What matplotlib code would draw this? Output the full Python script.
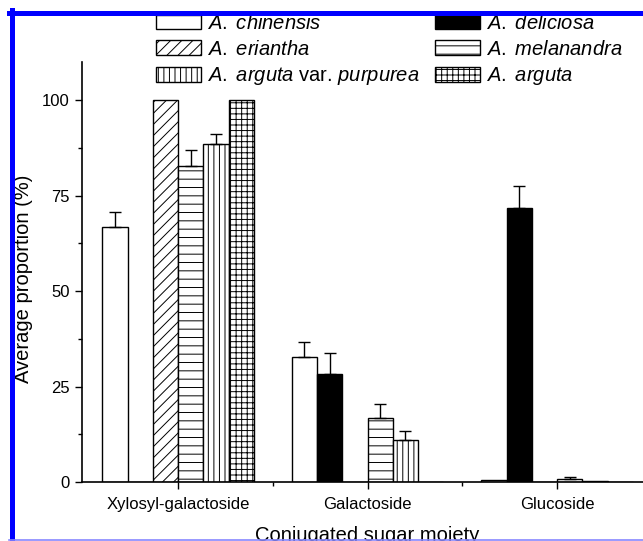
import numpy as np
import matplotlib
matplotlib.use("Agg")
import matplotlib.pyplot as plt
from matplotlib.lines import Line2D

# Daten
categories = ["Xylosyl-galactoside", "Galactoside", "Glucoside"]
species = [
    r"$\it{A.}$ $\it{chinensis}$",
    r"$\it{A.}$ $\it{deliciosa}$",
    r"$\it{A.}$ $\it{eriantha}$",
    r"$\it{A.}$ $\it{melanandra}$",
    r"$\it{A.}$ $\it{arguta}$ var. $\it{purpurea}$",
    r"$\it{A.}$ $\it{arguta}$",
]
chinensis = [66.8, 32.7, 0.5]
deliciosa = [0.0, 28.3, 71.7]
eriantha = [100.0, 0.0, 0.0]
melanandra = [82.7, 16.8, 0.9]
purpurea = [88.5, 11.0, 0.3]
arguta = [100.0, 0.0, 0.0]

chinensis_err = [3.9, 3.9, 0.0]
deliciosa_err = [0.0, 5.5, 5.8]
eriantha_err = [0.0, 0.0, 0.0]
melanandra_err = [4.3, 3.6, 0.5]
purpurea_err = [2.6, 2.4, 0.0]
arguta_err = [0.0, 0.0, 0.0]

values = [chinensis, deliciosa, eriantha, melanandra, purpurea, arguta]
errors = [chinensis_err, deliciosa_err, eriantha_err, melanandra_err, purpurea_err, arguta_err]
faces = ["white", "black", "white", "white", "white", "white"]
hatches = [None, None, "///", "--", "|||", "+++"]

plt.rcParams["font.family"] = ["Liberation Sans", "DejaVu Sans"]
plt.rcParams["mathtext.fontset"] = "custom"
plt.rcParams["mathtext.rm"] = "Liberation Sans"
plt.rcParams["mathtext.it"] = "Liberation Sans:italic"
plt.rcParams["hatch.linewidth"] = 0.7

fig = plt.figure(figsize=(6.43, 5.41), dpi=100)
ax = fig.add_axes([82 / 643, 59 / 541, 570 / 643, 420 / 541])

x = np.arange(len(categories))
w = 0.8 / 6
bars = []
for i in range(6):
    pos = x + (i - 2.5) * w
    b = ax.bar(pos, values[i], width=w, color=faces[i], edgecolor="black",
               linewidth=1.0, hatch=hatches[i], label=species[i], zorder=2)
    bars.append(b)
    err = np.array(errors[i])
    m = err > 0
    if m.any():
        ax.errorbar(pos[m], np.array(values[i])[m],
                    yerr=[np.zeros(m.sum()), err[m]], fmt="none",
                    ecolor="black", elinewidth=1.0, capsize=4, capthick=1.0, zorder=3)

ax.set_xlim(-0.507, 2.501)
ax.set_ylim(0, 110)
ax.set_yticks([0, 25, 50, 75, 100])
ax.set_yticks([12.5, 37.5, 62.5, 87.5], minor=True)
ax.set_xticks(x)
ax.set_xticks([0.5, 1.5], minor=True)
ax.set_xticklabels(categories, fontsize=12)
ax.tick_params(axis="y", labelsize=12)
ax.tick_params(which="major", direction="out", length=5, width=1.0, pad=4)
ax.tick_params(which="minor", direction="out", length=3, width=1.0)
ax.tick_params(axis="x", which="major", pad=6)

for s in ["top", "right"]:
    ax.spines[s].set_visible(False)
for s in ["left", "bottom"]:
    ax.spines[s].set_linewidth(1.2)

ax.set_ylabel("Average proportion (%)", fontsize=14.5)
ax.yaxis.set_label_coords(-0.086, 0.483)
ax.set_xlabel("Conjugated sugar moiety", fontsize=14.5, labelpad=10)

# Legende zeilenweise wie im Original
order = [0, 2, 4, 1, 3, 5]
ax.legend([bars[k] for k in order], [species[k] for k in order],
          loc="upper left", bbox_to_anchor=(156 / 643, 1 - 14 / 541),
          bbox_transform=fig.transFigure, ncol=2, frameon=False,
          fontsize=14.5, borderpad=0, borderaxespad=0,
          handlelength=2.25, handleheight=0.75, handletextpad=0.3,
          labelspacing=0.33, columnspacing=0.75)

# blauer Rahmen
fig.add_artist(Line2D([11.5 / 643, 11.5 / 643], [0, 1 - 10 / 541],
                      transform=fig.transFigure, color="#0000ff", linewidth=3.6, zorder=10))
fig.add_artist(Line2D([9 / 643, 1], [1 - 12.5 / 541, 1 - 12.5 / 541],
                      transform=fig.transFigure, color="#0000ff", linewidth=3.6, zorder=10))
fig.add_artist(Line2D([9 / 643, 1], [1 - 540 / 541, 1 - 540 / 541],
                      transform=fig.transFigure, color="#8888ff", linewidth=1.2, zorder=10))

fig.savefig("out.png", dpi=100)
plt.close(fig)
